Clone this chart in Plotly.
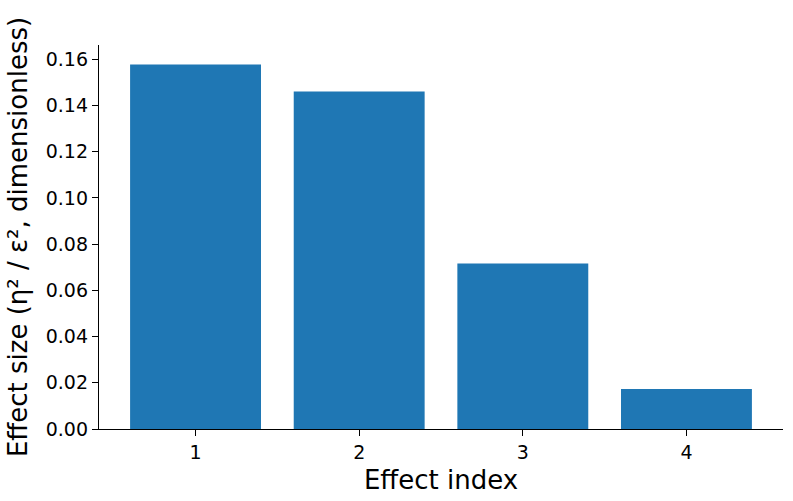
import plotly.graph_objects as go

effect_index = [1, 2, 3, 4]
effect_size = [0.1578, 0.1461, 0.0716, 0.0173]
y_ticks = [0.00, 0.02, 0.04, 0.06, 0.08, 0.10, 0.12, 0.14, 0.16]

fig = go.Figure(go.Bar(
    x=effect_index, y=effect_size, width=0.8,
    marker=dict(color="#1f77b4", line=dict(width=0)),
))

font = "DejaVu Sans, sans-serif"
fig.update_layout(
    width=793, height=501,
    margin=dict(l=99, r=10, t=45, b=72),
    plot_bgcolor="white", paper_bgcolor="white",
    showlegend=False,
    font=dict(family=font, color="black"),
)
fig.update_xaxes(
    range=[0.41, 4.59], tickvals=effect_index, ticktext=[str(v) for v in effect_index],
    showgrid=False, zeroline=False, showline=True, linecolor="black", linewidth=1.3,
    ticks="outside", ticklen=6, tickwidth=1.3, tickcolor="black",
    tickfont=dict(size=19, family=font),
    title=dict(text="Effect index", font=dict(size=26, family=font), standoff=8),
)
fig.update_yaxes(
    range=[0, 0.1662], tickvals=y_ticks, ticktext=[f"{v:.2f}" for v in y_ticks],
    showgrid=False, zeroline=False, showline=True, linecolor="black", linewidth=1.3,
    ticks="outside", ticklen=6, tickwidth=1.3, tickcolor="black",
    tickfont=dict(size=19, family=font),
    title=dict(text="Effect size (η² / ε², dimensionless)", font=dict(size=26, family=font), standoff=10),
)
fig.write_html("out.html")
